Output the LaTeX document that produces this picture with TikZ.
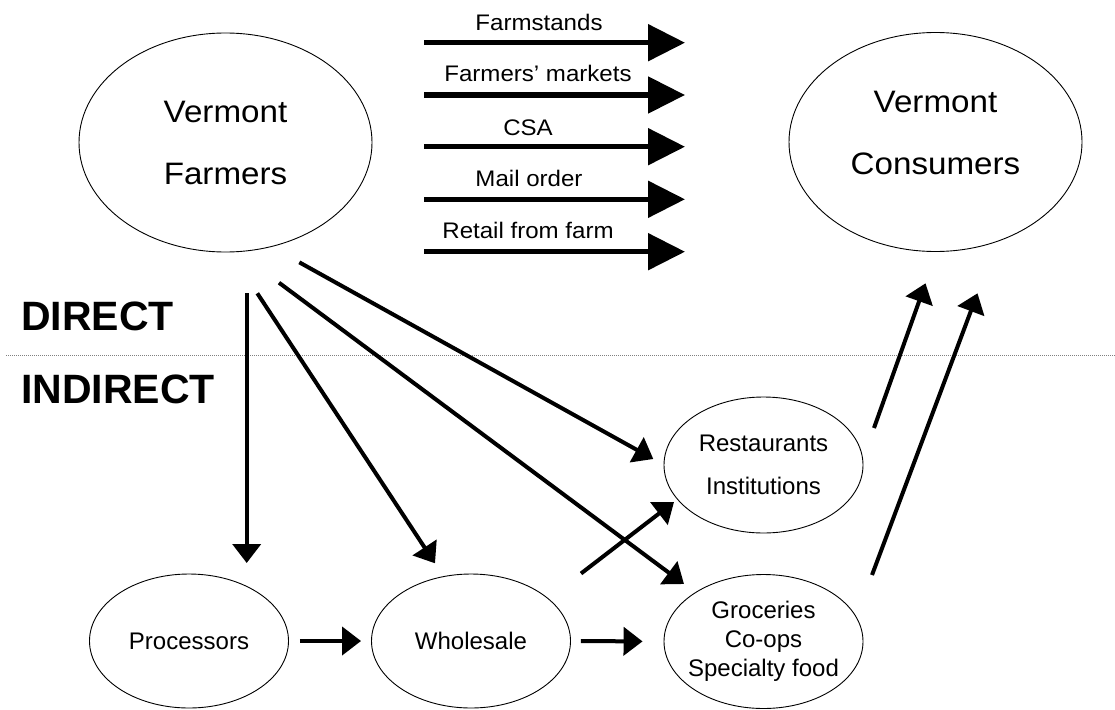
\documentclass[tikz,border=0pt]{standalone}
\usepackage{fontspec}
\setmainfont{Liberation Sans}
\newfontfamily\widesans{Liberation Sans}[FakeStretch=1.07]
\usetikzlibrary{arrows.meta, shapes.geometric}

\begin{document}
\begin{tikzpicture}[
    x=1pt, y=-1pt,
    big_ellipse/.style={ellipse, draw=black, line width=0.9pt, minimum width=293pt, minimum height=219pt, align=center, font=\widesans\fontsize{31}{62}\selectfont},
    outlet/.style={ellipse, draw=black, line width=0.9pt, minimum width=199pt, minimum height=134pt, inner sep=0pt, align=center, font=\fontsize{24}{29}\selectfont},
    outlet_text/.style={align=center, inner sep=0pt, font=\fontsize{24}{29}\selectfont},
    channel/.style={line width=5.3pt, -{Triangle[length=37pt, width=36pt]}},
    channel_label/.style={anchor=base, inner sep=0pt, font=\widesans\fontsize{22.5}{23}\selectfont},
    flow/.style={line width=4pt, -{Triangle[length=19pt, width=28pt]}},
    heading/.style={anchor=base west, inner sep=0pt, font=\fontsize{41}{41}\selectfont\bfseries},
    divider/.style={draw=black!50, line width=0.8pt, dash pattern=on 1pt off 1pt}
]
    \useasboundingbox (0,0) rectangle (1115,709);

    % Elipses principais: produtores e consumidores
    \node[big_ellipse] (vt_farmers) at (225.5,142.5) {Vermont\\Farmers};
    \node[big_ellipse, text depth=18pt] (vt_consumers) at (935.5,142) {Vermont\\Consumers};

    % Canais diretos
    \coordinate (farmstands_s) at (424,42.7);
    \coordinate (farmstands_e) at (685,42.7);
    \coordinate (markets_s) at (424,95);
    \coordinate (markets_e) at (685,95);
    \coordinate (csa_s) at (424,146.7);
    \coordinate (csa_e) at (685,146.7);
    \coordinate (mail_s) at (424,199.3);
    \coordinate (mail_e) at (685,199.3);
    \coordinate (retail_s) at (424,251.7);
    \coordinate (retail_e) at (685,251.7);
    \draw[channel] (farmstands_s) -- (farmstands_e);
    \draw[channel] (markets_s) -- (markets_e);
    \draw[channel] (csa_s) -- (csa_e);
    \draw[channel] (mail_s) -- (mail_e);
    \draw[channel] (retail_s) -- (retail_e);
    \node[channel_label] (lbl_farmstands) at (539,30.7) {Farmstands};
    \node[channel_label] (lbl_markets) at (538,81.7) {Farmers’ markets};
    \node[channel_label] (lbl_csa) at (528,135) {CSA};
    \node[channel_label] (lbl_mail) at (529,186.7) {Mail order};
    \node[channel_label] (lbl_retail) at (528,238) {Retail from farm};

    % Linha divisória: direto / indireto
    \node[heading] (direct) at (21,330) {DIRECT};
    \node[heading] (indirect) at (21,403) {INDIRECT};
    \coordinate (divider_w) at (6,355.5);
    \coordinate (divider_e) at (1115,355.5);
    \draw[divider] (divider_w) -- (divider_e);

    % Elipses dos canais indiretos
    \node[outlet] (processors) at (189,641) {Processors};
    \node[outlet] (wholesale) at (471,641) {Wholesale};
    \node[outlet, minimum height=136pt, font=\fontsize{24}{43}\selectfont] (restaurants) at (763.5,465) {Restaurants\\Institutions};
    \node[outlet, label={[outlet_text]center:{Groceries\\Co-ops\\Specialty food}}] (groceries) at (763.5,641.5) {};

    % Setas a partir dos produtores
    \coordinate (to_processors_s) at (246.7,293);
    \coordinate (to_processors_e) at (246.7,563);
    \coordinate (to_wholesale_s) at (257.3,293.3);
    \coordinate (to_wholesale_e) at (435,563.3);
    \coordinate (to_groceries_s) at (279,282.7);
    \coordinate (to_groceries_e) at (684,584);
    \coordinate (to_restaurants_s) at (299.3,262.3);
    \coordinate (to_restaurants_e) at (653.3,459);
    \draw[flow] (to_processors_s) -- (to_processors_e);
    \draw[flow] (to_wholesale_s) -- (to_wholesale_e);
    \draw[flow] (to_groceries_s) -- (to_groceries_e);
    \draw[flow] (to_restaurants_s) -- (to_restaurants_e);

    % Setas entre os intermediários
    \coordinate (cross_s) at (581,573.5);
    \coordinate (cross_e) at (674,502);
    \draw[flow, shorten <=11pt, shorten >=10pt] (processors.east) -- (wholesale.west);
    \draw[flow, shorten <=10pt, shorten >=21pt] (wholesale.east) -- (groceries.west);
    \draw[flow] (cross_s) -- (cross_e);

    % Setas para os consumidores
    \coordinate (up_restaurants_s) at (874,428);
    \coordinate (up_restaurants_e) at (925.5,283.3);
    \coordinate (up_groceries_s) at (872,575);
    \coordinate (up_groceries_e) at (977.5,293.3);
    \draw[flow] (up_restaurants_s) -- (up_restaurants_e);
    \draw[flow] (up_groceries_s) -- (up_groceries_e);
\end{tikzpicture}
\end{document}
